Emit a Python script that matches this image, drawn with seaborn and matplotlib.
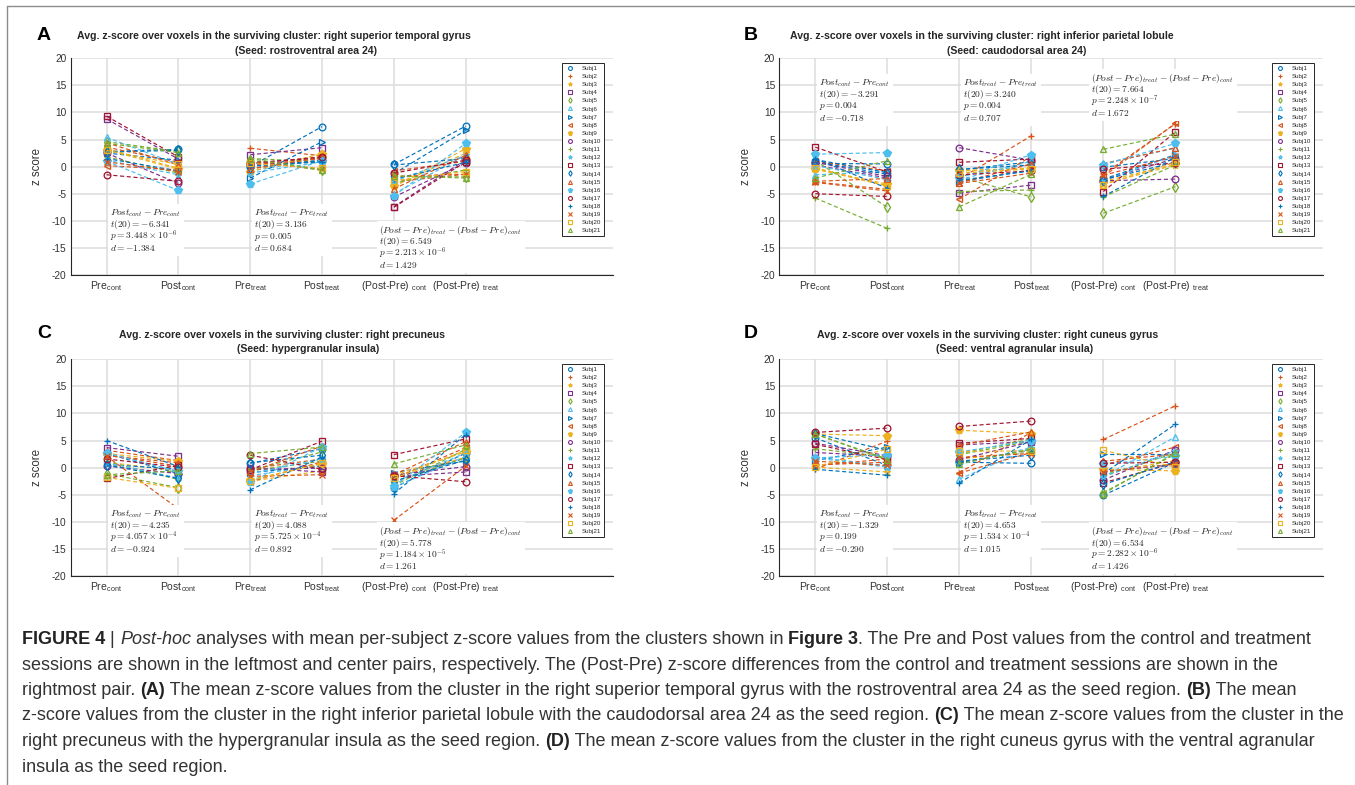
import matplotlib
matplotlib.use("Agg")
import matplotlib.pyplot as plt
from matplotlib.lines import Line2D
from matplotlib.patches import Rectangle
from matplotlib.transforms import Bbox
import pandas as pd
import seaborn as sns

W, H = 1355, 785

subjects = [f"Subj{i}" for i in range(1, 22)]
slot_labels = [
    r"Pre$_{\mathregular{cont}}$", r"Post$_{\mathregular{cont}}$",
    r"Pre$_{\mathregular{treat}}$", r"Post$_{\mathregular{treat}}$",
    r"(Post-Pre) $_{\mathregular{cont}}$", r"(Post-Pre) $_{\mathregular{treat}}$",
]
y_ticks = [20, 15, 10, 5, 0, -5, -10, -15, -20]

BLUE, ORANGE, YELLOW = "#0072BD", "#D95319", "#EDB120"
PURPLE, GREEN, CYAN, DARKRED = "#7E2F8E", "#77AC30", "#4DBEEE", "#A2142F"
subj_colors = [BLUE, ORANGE, YELLOW, PURPLE, GREEN, CYAN, BLUE, ORANGE, YELLOW, PURPLE, GREEN,
               CYAN, DARKRED, BLUE, ORANGE, CYAN, DARKRED, BLUE, ORANGE, YELLOW, GREEN]
subj_markers = ["o", "+", "*", "s", "d", "^", ">", "<", "p", "o", "+",
                "*", "s", "d", "^", "p", "o", "+", "x", "s", "^"]

# --- panel A: right superior temporal gyrus (seed rostroventral area 24)
a_pre_c = [2.8, 3.6, 3.3, 8.8, 4.6, 5.4, 2.5, 0.2, 3.1, 2.5, 1.8, 1.2, 9.3, 2.7, 4.4, 1.0, -1.5, 1.5, 0.9, 3.0, 4.3]
a_post_c = [3.2, 0.8, -0.3, 1.4, 2.8, 0.4, 1.2, -0.6, -0.5, -3.1, -1.2, -1.5, 1.8, 3.0, 0.3, -4.4, -2.7, -0.8, -0.9, 0.4, 2.6]
a_pre_t = [0.0, 3.4, -0.5, 2.2, 1.2, -0.8, -2.1, 0.4, -0.9, 0.3, 1.5, -1.2, 0.7, -0.3, -0.4, -3.2, 0.6, 0.1, 0.9, 0.6, 1.5]
a_post_t = [7.4, 2.0, 2.0, 3.5, -0.7, 1.3, 4.6, 1.4, 2.4, 1.0, 0.9, 0.9, 1.6, 1.2, 1.7, 1.1, 1.8, 0.9, -0.5, -0.3, -0.6]
a_diff_c = [0.4, -2.8, -3.6, -7.4, -1.8, -5.0, -1.3, -0.8, -3.6, -5.6, -3.0, -2.7, -7.5, 0.3, -4.1, -5.4, -1.2, -2.3, -1.8, -2.6, -1.7]
a_diff_t = [7.5, -1.4, 2.5, 1.3, -1.9, 2.1, 6.7, 1.0, 3.3, 0.7, -0.6, 2.1, 0.9, 1.5, 2.1, 4.3, 1.2, 0.8, -1.4, -0.9, -2.1]

# --- panel B: right inferior parietal lobule (seed caudodorsal area 24)
b_pre_c = [0.6, -2.8, -0.4, 0.3, 1.1, -1.5, 0.9, 1.0, -0.5, 0.8, -5.8, 0.2, 3.6, 1.3, -2.7, 2.3, -5.0, 1.5, -2.9, -0.2, -2.1]
b_post_c = [0.5, -4.2, -3.6, -2.1, -7.5, -0.9, -1.4, -0.8, -3.2, -1.8, -11.4, -2.4, -1.0, -1.1, -2.2, 2.6, -5.5, -4.0, -4.5, -3.5, 1.1]
b_pre_t = [-0.6, -2.3, -0.8, -4.9, -1.9, -2.4, -2.8, -6.0, -0.7, 3.5, -4.6, -1.7, 0.8, -0.5, -3.0, -2.1, -1.5, -2.5, -3.1, -1.2, -7.4]
b_post_t = [0.9, 5.7, -0.5, -3.4, -5.6, 1.0, -0.6, 1.9, -0.3, 1.2, -4.3, 0.4, 1.4, 0.3, 0.5, 2.2, -0.8, -0.8, -1.2, -0.4, -1.4]
b_diff_c = [-0.1, -1.4, -3.2, -2.4, -8.6, 0.6, -2.3, -1.8, -2.7, -2.6, -5.6, -2.6, -4.6, -2.4, 0.5, 0.3, -0.5, -5.5, -1.6, -3.3, 3.2]
b_diff_t = [1.5, 7.9, 0.3, 1.5, -3.7, 3.4, 2.2, 8.0, 0.4, -2.3, 0.3, 2.1, 6.4, 0.8, 3.5, 4.3, 0.7, 1.7, 1.9, 0.8, 6.0]

# --- panel C: right precuneus (seed hypergranular insula)
c_pre_c = [2.6, 3.2, 1.0, 3.7, -1.1, 2.8, 0.6, 2.3, 2.6, 0.3, 1.1, 0.9, -2.0, 0.5, 2.2, 2.7, 1.6, 5.0, 2.1, -1.8, -1.3]
c_post_c = [-1.1, 1.3, -0.6, 2.1, -3.7, -0.8, -0.3, 0.3, 1.2, -1.1, -2.2, -1.9, 0.4, -2.0, 0.9, -0.7, 0.1, 0.2, -7.6, -3.8, -0.6]
c_pre_t = [0.8, -0.2, -2.5, 0.0, -0.6, -1.5, -0.9, -2.6, -2.2, -0.3, -0.5, -1.1, -0.4, 0.9, -0.8, -2.7, 2.3, -4.1, -1.6, -2.4, 2.6]
c_post_t = [3.5, 1.6, -0.6, -0.8, 1.2, 0.6, 0.3, 1.1, 0.7, -0.1, 2.9, 1.6, 4.9, 2.3, 4.0, 3.8, -0.3, 2.0, -1.3, 0.8, 3.8]
c_diff_c = [-3.7, -1.9, -1.6, -1.6, -2.6, -3.6, -0.9, -2.0, -1.4, -1.4, -3.3, -2.8, 2.4, -2.5, -1.3, -3.4, -1.5, -4.8, -9.7, -2.0, 0.7]
c_diff_t = [2.7, 1.8, 1.9, -0.8, 1.8, 2.1, 1.2, 3.7, 2.9, 0.2, 3.4, 2.7, 5.3, 1.4, 4.8, 6.5, -2.6, 6.1, 0.3, 3.2, 4.2]

# --- panel D: right cuneus gyrus (seed ventral agranular insula)
d_pre_c = [5.5, -0.3, 0.1, 2.8, 6.2, 2.0, 1.3, 0.5, 6.2, 4.5, 3.5, 1.8, 4.3, 6.3, 0.4, 1.8, 6.5, -0.3, 1.2, 0.2, 6.2]
d_post_c = [0.4, 4.9, -0.8, 2.1, 1.6, 0.3, 3.8, 1.0, 5.9, 2.2, 2.0, 0.1, 1.5, 3.2, 1.6, 2.4, 7.3, -1.4, 0.4, 3.4, 1.4]
d_pre_t = [1.0, -0.9, 1.6, 4.2, 2.4, -2.1, 0.9, -1.0, 6.9, 1.5, 2.6, 0.6, 4.5, 1.2, 4.1, 2.9, 7.6, -2.8, 1.9, 3.0, 0.7]
d_post_t = [0.8, 6.5, 2.9, 4.8, 4.9, 3.6, 3.4, 2.8, 6.3, 4.8, 5.3, 3.7, 5.4, 2.3, 6.6, 5.0, 8.6, 5.2, 2.6, 3.1, 3.4]
d_diff_c = [-5.1, 5.2, -0.9, -0.7, -4.6, -1.7, 2.5, 0.5, -0.3, -2.3, -1.5, -1.7, -2.8, -3.1, 1.2, 0.6, 0.8, -1.1, -0.8, 3.2, -4.8]
d_diff_t = [1.0, 11.4, 1.3, 0.6, 2.5, 5.7, 2.5, 3.8, -0.6, 3.3, 2.7, 3.1, 0.9, 1.1, 2.5, 2.1, 1.0, 8.0, 0.7, 0.1, 2.7]

titles = [
    ("Avg. z-score over voxels in the surviving cluster: right superior temporal gyrus", "(Seed: rostroventral area 24)"),
    ("Avg. z-score over voxels in the surviving cluster: right inferior parietal lobule", "(Seed: caudodorsal area 24)"),
    ("Avg. z-score over voxels in the surviving cluster: right precuneus", "(Seed: hypergranular insula)"),
    ("Avg. z-score over voxels in the surviving cluster: right cuneus gyrus", "(Seed: ventral agranular insula)"),
]

stats = [
    [("cont", "-6.341", r"3.448 \times 10^{-6}", "-1.384"), ("treat", "3.136", "0.005", "0.684"),
     ("diff", "6.549", r"2.213 \times 10^{-6}", "1.429")],
    [("cont", "-3.291", "0.004", "-0.718"), ("treat", "3.240", "0.004", "0.707"),
     ("diff", "7.664", r"2.248 \times 10^{-7}", "1.672")],
    [("cont", "-4.235", r"4.057 \times 10^{-4}", "-0.924"), ("treat", "4.088", r"5.725 \times 10^{-4}", "0.892"),
     ("diff", "5.778", r"1.184 \times 10^{-5}", "1.261")],
    [("cont", "-1.329", "0.199", "-0.290"), ("treat", "4.653", r"1.534 \times 10^{-4}", "1.015"),
     ("diff", "6.534", r"2.282 \times 10^{-6}", "1.426")],
]

sns.set_theme(style="white")
plt.rcParams["font.family"] = ["Liberation Sans", "DejaVu Sans"]
plt.rcParams["mathtext.fontset"] = "cm"
plt.rcParams["axes.unicode_minus"] = False

TXT = "#262626"


def panel_frame(cols):
    rows = []
    for i, s in enumerate(subjects):
        for slot, vals in enumerate(cols, start=1):
            rows.append({"subject": s, "slot": slot, "pair": (slot - 1) // 2, "z": vals[i]})
    return pd.DataFrame(rows)


def stat_lines(kind, t, p, d):
    if kind == "cont":
        head = r"$Post_{cont} - Pre_{cont}$"
    elif kind == "treat":
        head = r"$Post_{treat} - Pre_{treat}$"
    else:
        head = r"$(Post - Pre)_{treat} - (Post - Pre)_{cont}$"
    return [head, rf"$t(20) = {t}$", rf"$p = {p}$", rf"$d = {d}$"]


fig = plt.figure(figsize=(W / 100, H / 100), dpi=100)
renderer = fig.canvas.get_renderer()

panels = [
    ("A", [70.7, 58.3, 613, 275], 44, 35, (274, 306),
     [a_pre_c, a_post_c, a_pre_t, a_post_t, a_diff_c, a_diff_t], [(1.05, -8.6), (3.05, -8.6), (4.79, -11.7)]),
    ("B", [779.3, 58.3, 1323, 275], 751, 35, (982, 1017),
     [b_pre_c, b_post_c, b_pre_t, b_post_t, b_diff_c, b_diff_t], [(1.05, 15.4), (3.05, 15.4), (4.83, 16.3)]),
    ("C", [70.7, 359.3, 613, 576], 44, 334, (282, 308),
     [c_pre_c, c_post_c, c_pre_t, c_post_t, c_diff_c, c_diff_t], [(1.05, -8.6), (3.05, -8.6), (4.79, -11.8)]),
    ("D", [779.3, 359.3, 1323, 576], 751, 334, (988, 1015),
     [d_pre_c, d_post_c, d_pre_t, d_post_t, d_diff_c, d_diff_t], [(1.05, -8.6), (3.05, -8.6), (4.83, -11.8)]),
]

for k, (letter, box, lx, ly, tcx, cols, ann_pos) in enumerate(panels):
    x0, y0, x1, y1 = box
    ax = fig.add_axes([x0 / W, 1 - y1 / H, (x1 - x0) / W, (y1 - y0) / H])
    df = panel_frame(cols)
    for i, s in enumerate(subjects):
        sub = df[df["subject"] == s]
        c = subj_colors[i]
        m = subj_markers[i]
        sns.lineplot(data=sub, x="slot", y="z", units="pair", estimator=None, sort=False,
                     color=c, marker=m, markersize=5.6 if m == "p" else 4.8,
                     mec=c, mfc=c if m == "p" else "none", mew=0.95,
                     linestyle=(0, (3.5, 2.2)), linewidth=0.85, ax=ax, legend=False)

    ax.set_xlim(0.5, 8.05)
    ax.set_ylim(-20, 20)
    ax.set_xticks(range(1, 7))
    ax.set_xticklabels(slot_labels, fontsize=7.5, color="#333333")
    ax.set_yticks(y_ticks)
    ax.set_yticklabels([str(v) for v in y_ticks], fontsize=7.3, color="#333333")
    ax.set_xlabel("")
    ax.set_ylabel("z score", fontsize=8.3, color="#333333")
    ax.yaxis.set_label_coords(-0.051, 0.5)
    ax.grid(True, color="#dcdcdc", linewidth=1.1)
    ax.set_axisbelow(True)
    for side in ["top", "right"]:
        ax.spines[side].set_visible(False)
    for side in ["left", "bottom"]:
        ax.spines[side].set_color(TXT)
        ax.spines[side].set_linewidth(0.8)
    ax.tick_params(direction="in", length=3, width=0.6, color=TXT, pad=3)

    # stats blocks: one text per line, a white box behind the whole block
    for (kind, t, p, d), (ax_x, ax_y) in zip(stats[k], ann_pos):
        texts = []
        for j, line in enumerate(stat_lines(kind, t, p, d)):
            texts.append(ax.text(ax_x, ax_y - 2.13 * j, line, ha="left", va="center",
                                 fontsize=6.8, color=TXT, zorder=7))
        bb = Bbox.union([tt.get_window_extent(renderer) for tt in texts])
        bb = Bbox.from_extents(bb.x0 - 2, bb.y0 - 3, bb.x1 + 3, bb.y1 + 3)
        (dx0, dy0), (dx1, dy1) = ax.transData.inverted().transform([[bb.x0, bb.y0], [bb.x1, bb.y1]])
        ax.add_patch(Rectangle((dx0, dy0), dx1 - dx0, dy1 - dy0, facecolor="white",
                               edgecolor="none", zorder=6))

    handles = [Line2D([], [], ls="none", marker=subj_markers[i], color=subj_colors[i],
                      mec=subj_colors[i], mfc=subj_colors[i] if subj_markers[i] == "p" else "none",
                      ms=3.6 if subj_markers[i] == "p" else 2.8, mew=0.8) for i in range(21)]
    leg = ax.legend(handles, subjects, loc="upper left", bbox_to_anchor=(0.906, 0.978),
                    fontsize=4.5, frameon=True, fancybox=False, edgecolor=TXT, framealpha=1,
                    handlelength=1.8, handletextpad=1.0, labelspacing=0.44, borderpad=0.4,
                    borderaxespad=0)
    leg.get_frame().set_linewidth(0.7)
    leg.set_zorder(8)
    for txt in leg.get_texts():
        txt.set_color(TXT)

    fig.text(lx / W, 1 - ly / H, letter, fontsize=14, fontweight="bold", color="black",
             ha="center", va="center")
    fig.text(tcx[0] / W, 1 - (ly + 1) / H, titles[k][0], fontsize=7.6, fontweight="bold",
             color=TXT, ha="center", va="center")
    fig.text(tcx[1] / W, 1 - (ly + 15.5) / H, titles[k][1], fontsize=7.6, fontweight="bold",
             color=TXT, ha="center", va="center")

# frame lines of the figure box
fig.add_artist(Line2D([7 / W, 7 / W], [0, 1 - 6 / H], transform=fig.transFigure, color="#8c8c8c", lw=1.0))
fig.add_artist(Line2D([7 / W, 1], [1 - 6 / H, 1 - 6 / H], transform=fig.transFigure, color="#8c8c8c", lw=1.0))

# caption, drawn run by run so bold / italic pieces sit inline
caption = [
    [("FIGURE 4", "b"), (" | ", "r"), ("Post-hoc", "i"),
     (" analyses with mean per-subject z-score values from the clusters shown in ", "r"),
     ("Figure 3", "b"), (". The Pre and Post values from the control and treatment", "r")],
    [("sessions are shown in the leftmost and center pairs, respectively. The (Post-Pre) z-score differences "
      "from the control and treatment sessions are shown in the", "r")],
    [("rightmost pair. ", "r"), ("(A)", "b"),
     (" The mean z-score values from the cluster in the right superior temporal gyrus with the rostroventral "
      "area 24 as the seed region. ", "r"), ("(B)", "b"), (" The mean", "r")],
    [("z-score values from the cluster in the right inferior parietal lobule with the caudodorsal area 24 as "
      "the seed region. ", "r"), ("(C)", "b"), (" The mean z-score values from the cluster in the", "r")],
    [("right precuneus with the hypergranular insula as the seed region. ", "r"), ("(D)", "b"),
     (" The mean z-score values from the cluster in the right cuneus gyrus with the ventral agranular", "r")],
    [("insula as the seed region.", "r")],
]
caption_y = [640, 665, 690.5, 716, 741.5, 767]

for runs, yy in zip(caption, caption_y):
    xx = 22
    for txt, st in runs:
        t = fig.text(xx / W, 1 - yy / H, txt, fontsize=13.0,
                     fontweight="bold" if st == "b" else "normal",
                     fontstyle="italic" if st == "i" else "normal",
                     color="#222222" if st == "b" else "#333333", ha="left", va="center")
        xx += t.get_window_extent(renderer).width

fig.savefig("out.png", dpi=100, facecolor="white")
